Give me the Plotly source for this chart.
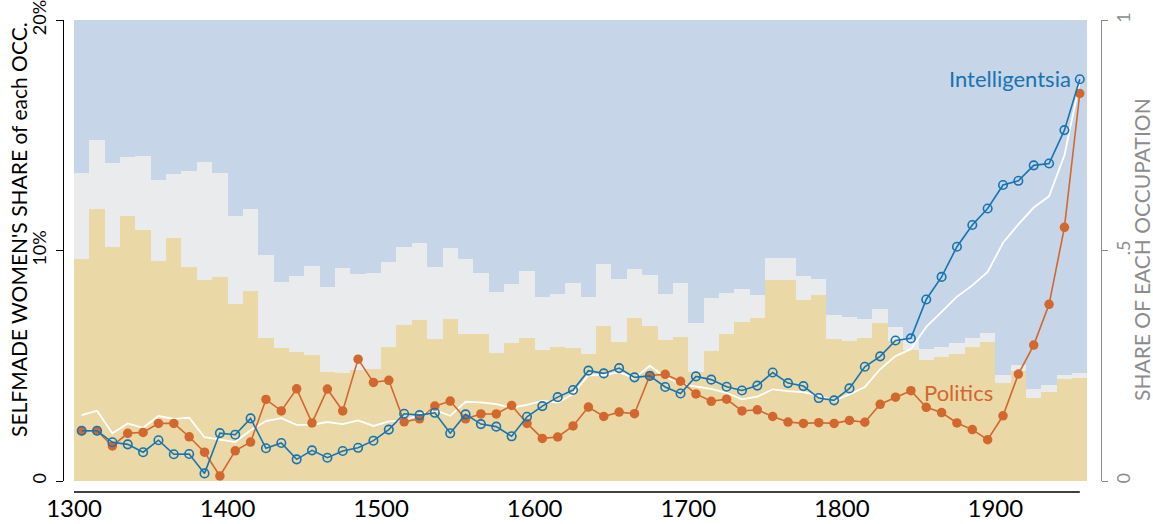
import plotly.graph_objects as go

# Decade start years (categories); points sit at decade midpoints
decades = list(range(1300, 1960, 10))
midpoints = [d + 5 for d in decades]

# Share of each occupation (right axis, 0..1): beige = bottom band, total = top of grey band
beige_share = [0.482, 0.590, 0.508, 0.575, 0.545, 0.477, 0.528, 0.465, 0.436, 0.443,
               0.385, 0.412, 0.310, 0.289, 0.280, 0.273, 0.237, 0.235, 0.240, 0.242,
               0.291, 0.338, 0.349, 0.308, 0.351, 0.319, 0.319, 0.278, 0.300, 0.310,
               0.284, 0.291, 0.289, 0.275, 0.336, 0.302, 0.354, 0.336, 0.306, 0.312,
               0.236, 0.282, 0.319, 0.345, 0.354, 0.436, 0.436, 0.393, 0.403, 0.308,
               0.304, 0.310, 0.343, 0.304, 0.284, 0.262, 0.269, 0.275, 0.291, 0.302,
               0.213, 0.239, 0.180, 0.193, 0.221, 0.223]
total_share = [0.668, 0.740, 0.690, 0.703, 0.705, 0.654, 0.667, 0.672, 0.692, 0.668,
               0.575, 0.590, 0.490, 0.432, 0.445, 0.466, 0.421, 0.462, 0.449, 0.451,
               0.475, 0.508, 0.516, 0.465, 0.505, 0.482, 0.451, 0.410, 0.427, 0.456,
               0.399, 0.406, 0.430, 0.399, 0.471, 0.438, 0.460, 0.447, 0.406, 0.430,
               0.343, 0.397, 0.408, 0.416, 0.403, 0.484, 0.484, 0.445, 0.438, 0.360,
               0.356, 0.351, 0.373, 0.334, 0.306, 0.286, 0.291, 0.300, 0.310, 0.322,
               0.229, 0.252, 0.200, 0.208, 0.231, 0.234]

# Selfmade women's share (%) (left axis)
politics = [2.18, 2.18, 1.52, 2.07, 2.11, 2.50, 2.50, 1.92, 1.25, 0.22,
            1.31, 1.69, 3.54, 3.04, 4.00, 2.52, 3.99, 3.04, 5.29, 4.28,
            4.37, 2.57, 2.70, 3.25, 3.47, 2.70, 2.91, 2.91, 3.28, 2.50,
            1.85, 1.91, 2.39, 3.21, 2.80, 2.99, 2.92, 4.58, 4.63, 4.33,
            3.78, 3.46, 3.55, 3.04, 3.09, 2.80, 2.56, 2.50, 2.53, 2.50,
            2.63, 2.55, 3.33, 3.64, 3.92, 3.20, 2.97, 2.52, 2.23, 1.79,
            2.83, 4.64, 5.90, 7.67, 11.01, 16.82]
intelligentsia = [2.18, 2.18, 1.68, 1.59, 1.25, 1.77, 1.16, 1.17, 0.33, 2.08,
                  2.01, 2.72, 1.42, 1.65, 0.94, 1.33, 1.01, 1.30, 1.44, 1.75,
                  2.23, 2.92, 2.86, 2.96, 2.07, 2.89, 2.47, 2.36, 1.94, 2.79,
                  3.25, 3.64, 3.95, 4.79, 4.67, 4.90, 4.50, 4.56, 4.08, 3.80,
                  4.54, 4.40, 4.09, 3.93, 4.14, 4.71, 4.25, 4.12, 3.60, 3.50,
                  4.02, 4.96, 5.41, 6.10, 6.19, 7.88, 8.86, 10.17, 11.11, 11.83,
                  12.85, 13.03, 13.70, 13.78, 15.23, 17.44]
overall = [2.86, 3.05, 2.07, 2.50, 2.31, 2.82, 2.70, 2.75, 1.90, 1.79,
           1.69, 2.20, 2.60, 2.73, 2.44, 2.44, 2.56, 2.47, 2.63, 2.39,
           2.59, 2.62, 2.89, 3.08, 2.83, 3.44, 3.41, 3.34, 3.18, 3.30,
           3.48, 3.40, 3.77, 4.59, 4.60, 4.72, 4.46, 5.00, 4.52, 4.20,
           4.09, 4.00, 3.83, 3.54, 3.66, 3.98, 3.90, 3.86, 3.70, 3.48,
           3.76, 4.08, 4.85, 5.42, 5.73, 6.69, 7.34, 8.00, 8.49, 9.07,
           10.34, 11.14, 11.87, 12.36, 14.14, 17.32]

x_ticks = [1300, 1400, 1500, 1600, 1700, 1800, 1900]
left_ticks = [0, 10, 20]
left_labels = ["0", "10%", "20%"]
right_ticks = [0, 0.5, 1]
right_labels = ["0", ".5", "1"]

gray_share = [t - b for t, b in zip(total_share, beige_share)]
blue_share = [1 - t for t in total_share]

BEIGE = "#ead8a6"
GREY = "#e9ebed"
BLUE = "#c6d5e7"
C_INT = "#1874b0"
C_POL = "#d2672f"
FONT = "Lato, 'Open Sans', sans-serif"

fig = go.Figure()
for vals, col in [(beige_share, BEIGE), (gray_share, GREY), (blue_share, BLUE)]:
    fig.add_trace(go.Bar(x=midpoints, y=vals, width=10, marker=dict(color=col, line=dict(width=0)),
                         yaxis="y", hoverinfo="skip", showlegend=False))

fig.add_trace(go.Scatter(x=midpoints, y=overall, mode="lines", line=dict(color="white", width=1.8),
                         yaxis="y2", showlegend=False))
fig.add_trace(go.Scatter(x=midpoints, y=politics, mode="lines+markers",
                         line=dict(color=C_POL, width=1.6),
                         marker=dict(color=C_POL, size=9.5, symbol="circle"),
                         yaxis="y2", showlegend=False))
fig.add_trace(go.Scatter(x=midpoints, y=intelligentsia, mode="lines+markers",
                         line=dict(color=C_INT, width=1.6),
                         marker=dict(color=C_INT, size=8.5, symbol="circle-open", line=dict(width=1.6)),
                         yaxis="y2", showlegend=False))

L, R, T, B = 63, 52, 20, 32
W, H = 1153, 524
pw = W - L - R
ph = H - T - B
x0 = (74 - L) / pw
x1 = (1089 - L) / pw
y0 = (492 - 481) / ph

fig.update_layout(
    width=W, height=H,
    autosize=False,
    margin=dict(l=L, r=R, t=T, b=B, pad=0, autoexpand=False),
    paper_bgcolor="white", plot_bgcolor="white",
    barmode="stack", bargap=0,
    font=dict(family=FONT, color="black"),
    xaxis=dict(domain=[x0, x1], range=[1300, 1961], anchor="free", position=0, automargin=False,
               showgrid=False, zeroline=False, showline=False, ticks="",
               tickvals=x_ticks, tickfont=dict(size=24, color="black")),
    yaxis=dict(domain=[y0, 1], range=[0, 1.0005], side="right", anchor="free", position=1, automargin=False,
               showgrid=False, zeroline=False, showline=True, linecolor="#8c8c8c", linewidth=1.2,
               ticks="outside", ticklen=6, tickcolor="#8c8c8c", tickwidth=1.2,
               tickvals=right_ticks, ticktext=right_labels, tickangle=-90,
               ticklabeloverflow="allow",
               tickfont=dict(size=18, color="#8c8c8c")),
    yaxis2=dict(domain=[y0, 1], range=[0, 20.01], side="left", anchor="free", position=0,
                overlaying="y", automargin=False,
                showgrid=False, zeroline=False, showline=True, linecolor="black", linewidth=1.2,
                ticks="outside", ticklen=7, tickcolor="black", tickwidth=1.2,
                tickvals=left_ticks, ticktext=left_labels, tickangle=-90,
                ticklabeloverflow="allow", ticklabelstandoff=3,
                tickfont=dict(size=18, color="black")),
    shapes=[dict(type="line", xref="x", yref="paper", x0=1300, x1=1955, y0=0, y1=0,
                 line=dict(color="black", width=1.5))],
    annotations=[
        dict(text="SELFMADE WOMEN'S SHARE of each OCC.", textangle=-90, xref="paper", yref="paper",
             x=(18 - L) / pw, y=(492 - 230) / ph, xanchor="center", yanchor="middle",
             showarrow=False, font=dict(size=21, color="black")),
        dict(text="SHARE OF EACH OCCUPATION", textangle=-90, xref="paper", yref="paper",
             x=(1141 - L) / pw, y=(492 - 250) / ph, xanchor="center", yanchor="middle",
             showarrow=False, font=dict(size=21, color="#8c8c8c")),
        dict(text="Intelligentsia", xref="x", yref="y2", x=1950.5, y=17.45,
             xanchor="right", yanchor="middle", showarrow=False,
             font=dict(size=22, color=C_INT)),
        dict(text="Politics", xref="x", yref="y2", x=1852, y=3.85,
             xanchor="left", yanchor="middle", showarrow=False,
             font=dict(size=22, color=C_POL)),
    ],
)

fig.write_html("out.html", config={"displayModeBar": False},
               post_script="document.body.style.margin='0px';document.body.style.padding='0px';")
